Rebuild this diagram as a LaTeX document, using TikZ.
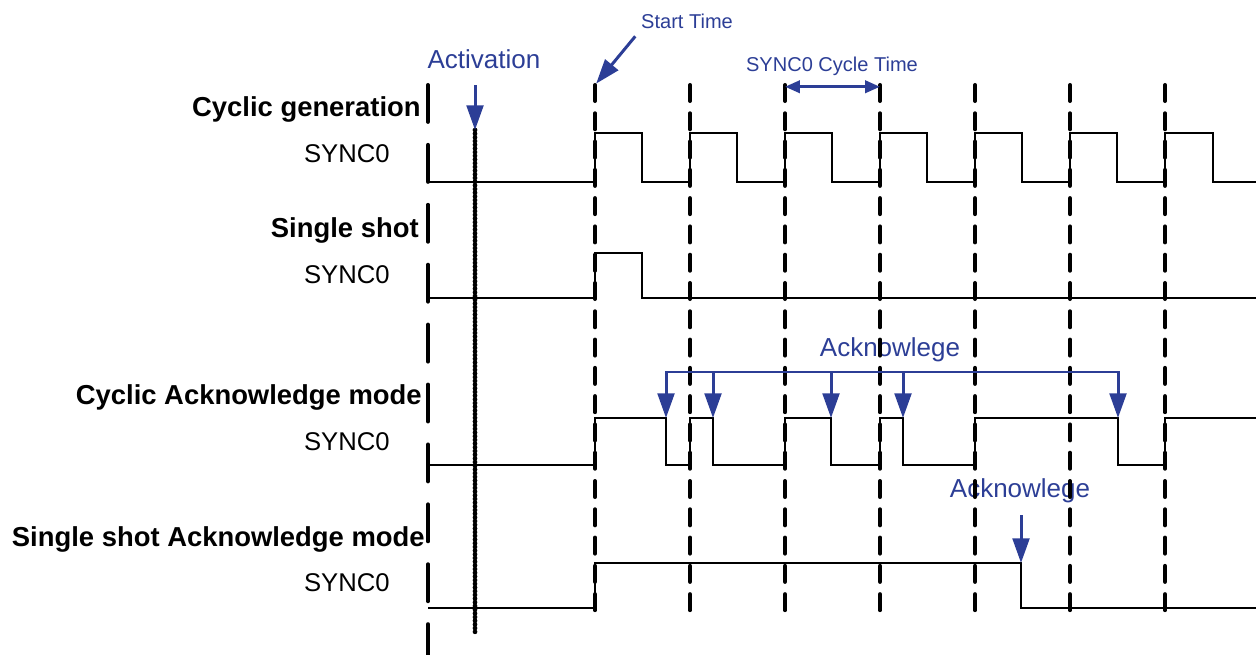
\documentclass[tikz,border=0pt]{standalone}
\usepackage{fontspec}
\setmainfont{Liberation Sans}
\usetikzlibrary{arrows.meta}
\definecolor{ackblue}{RGB}{44,62,150}
\tikzset{
  sig/.style={line width=1.5pt},
  axisline/.style={line width=2.3pt, line cap=round, dash pattern=on 21pt off 13.1pt},
  gridline/.style={line width=2.3pt, line cap=round, dash pattern=on 9.1pt off 7pt},
  actline/.style={line width=2.7pt, line cap=round, dash pattern=on 0pt off 2.1pt},
  modelbl/.style={anchor=base east, inner sep=0pt, font=\bfseries\fontsize{15.6}{18}\selectfont},
  siglbl/.style={anchor=base east, inner sep=0pt, font=\fontsize{14.6}{17}\selectfont},
  notelbl/.style={anchor=base, inner sep=0pt, text=ackblue, font=\fontsize{14.8}{17}\selectfont},
  smalllbl/.style={anchor=base, inner sep=0pt, text=ackblue, font=\fontsize{11.4}{13}\selectfont},
  pointer/.style={ackblue, line width=1.7pt, -{Triangle[length=14pt,width=9.5pt]}},
  span/.style={ackblue, line width=1.7pt, {Triangle[length=8.5pt,width=7pt]}-{Triangle[length=8.5pt,width=7pt]}},
  ackbar/.style={ackblue, line width=1.7pt, line cap=rect}
}
\begin{document}
\begin{tikzpicture}[x=0.02cm,y=-0.02cm]
  \useasboundingbox (0,0) rectangle (1256,655);
  \coordinate (O) at (428,85); \coordinate (Oe) at (428,655);
  \coordinate (G1) at (595,85); \coordinate (G2) at (690,85);
  \coordinate (G3) at (785,85); \coordinate (G4) at (880,85);
  \coordinate (G5) at (975,85); \coordinate (G6) at (1070,85);
  \coordinate (G7) at (1165,85); \coordinate (Gb) at (0,612);
  \coordinate (V) at (475,130); \coordinate (Ve) at (475,632);
  \coordinate (K1) at (666,418); \coordinate (K2) at (713,418);
  \coordinate (K3) at (831,418); \coordinate (K4) at (903,418);
  \coordinate (K5) at (1118,418); \coordinate (Kb) at (0,372);
  \coordinate (K6) at (1021,563);

  \node[modelbl] (cg) at (421,117) {Cyclic generation};
  \node[siglbl] (s1) at (390,163) {SYNC0};
  \node[modelbl] (ss) at (419,237) {Single shot};
  \node[siglbl] (s2) at (390,283) {SYNC0};
  \node[modelbl] (ca) at (422,404) {Cyclic Acknowledge mode};
  \node[siglbl] (s3) at (390,450) {SYNC0};
  \node[modelbl] (sa) at (425,546) {Single shot Acknowledge mode};
  \node[siglbl] (s4) at (390,591) {SYNC0};

  \node[notelbl] (act) at (484,69) {Activation};
  \node[smalllbl] (st) at (687,29) {Start Time};
  \node[smalllbl] (ct) at (832,72) {SYNC0 Cycle Time};
  \node[notelbl] (ackA) at (890,356) {Acknowlege};
  \node[notelbl] (ackB) at (1020,497) {Acknowlege};

  \draw[axisline] (O)--(Oe);
  \draw[gridline] (G1)--(G1|-Gb); \draw[gridline] (G2)--(G2|-Gb);
  \draw[gridline] (G3)--(G3|-Gb); \draw[gridline] (G4)--(G4|-Gb);
  \draw[gridline] (G5)--(G5|-Gb); \draw[gridline] (G6)--(G6|-Gb);
  \draw[gridline] (G7)--(G7|-Gb);
  \draw[actline] (V)--(Ve);

  \draw[sig] (428,182) -| (595,133) -| (642,182) -| (690,133) -| (737,182)
    -| (785,133) -| (832,182) -| (880,133) -| (927,182) -| (975,133)
    -| (1022,182) -| (1070,133) -| (1117,182) -| (1165,133) -| (1213,182)
    -- (1256,182);
  \draw[sig] (428,298) -| (595,253) -| (642,298) -- (1256,298);
  \draw[sig] (428,465) -| (595,418) -| (666,465) -| (690,418) -| (713,465)
    -| (785,418) -| (831,465) -| (880,418) -| (903,465) -| (975,418)
    -| (1118,465) -| (1165,418) -- (1256,418);
  \draw[sig] (428,608) -| (595,563) -| (1021,608) -- (1256,608);

  \draw[pointer, shorten <=9pt] (act.south -| V) -- (V);
  \draw[pointer, shorten <=5pt, shorten >=1pt] (st.south west) -- (G1);
  \draw[span] ([yshift=-1pt]G3) -- ([yshift=-1pt]G4);
  \draw[ackbar] (K1|-Kb) -- (K5|-Kb);
  \draw[pointer] (K1|-Kb) -- (K1); \draw[pointer] (K2|-Kb) -- (K2);
  \draw[pointer] (K3|-Kb) -- (K3); \draw[pointer] (K4|-Kb) -- (K4);
  \draw[pointer] (K5|-Kb) -- (K5);
  \draw[pointer, shorten <=7pt] (ackB.south -| K6) -- (K6);
\end{tikzpicture}
\end{document}
